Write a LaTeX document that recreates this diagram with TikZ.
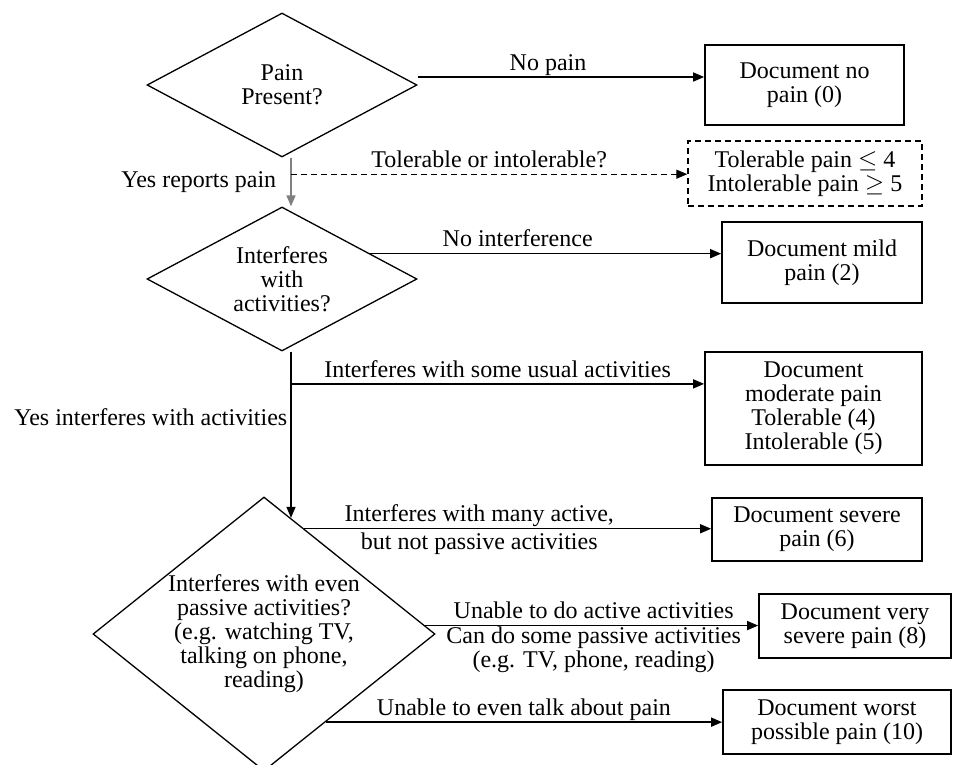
\documentclass[tikz,border=0pt]{standalone}
\usepackage{fontspec}
\setmainfont{Liberation Serif}
\usetikzlibrary{arrows.meta, shapes.geometric, calc}
\definecolor{grayline}{RGB}{128,128,128}

\begin{document}
\begin{tikzpicture}[x=1pt, y=-1pt, >={Triangle[length=11pt,width=9pt]},
    font=\fontsize{24}{24}\selectfont,
    decision/.style={diamond, draw, line width=1.3pt, inner sep=0pt, align=center},
    docbox/.style={draw, line width=1.7pt, inner sep=0pt, align=center},
    flow/.style={->, line width=1.5pt},
    lbl/.style={inner sep=1pt, text depth=5pt, align=center}]
    \useasboundingbox (0,0) rectangle (953,765);
    \node[decision, aspect=1.875, minimum width=270pt, minimum height=144pt] (pain) at (282,85) {Pain\\Present?};
    \node[decision, aspect=1.875, minimum width=270pt, minimum height=144pt] (interf) at (282,279) {Interferes\\with\\activities?};
    \node[decision, aspect=1.248, minimum width=342pt, minimum height=274pt] (passive) at (264,634) {Interferes with even\\passive activities?\\(e.g. watching TV,\\talking on phone,\\reading)};
    \node[docbox, minimum width=199pt, minimum height=80pt] (nopain) at (804.5,85) {Document no\\pain (0)};
    \node[docbox, dash pattern=on 6pt off 4pt, line width=1.4pt, minimum width=234pt, minimum height=65pt] (tol) at (805,173.5) {Tolerable pain $\leq$ 4\\Intolerable pain $\geq$ 5};
    \node[docbox, minimum width=200pt, minimum height=81pt] (mild) at (822,262.5) {Document mild\\pain (2)};
    \node[docbox, minimum width=217pt, minimum height=113pt] (moderate) at (813.5,408.5) {Document\\moderate pain\\Tolerable (4)\\Intolerable (5)};
    \node[docbox, minimum width=210pt, minimum height=63pt] (severe) at (817,529.5) {Document severe\\pain (6)};
    \node[docbox, minimum width=192pt, minimum height=64pt] (vsevere) at (855,626) {Document very\\severe pain (8)};
    \node[docbox, minimum width=228pt, minimum height=64pt] (worst) at (837,722) {Document worst\\possible pain (10)};
    \draw[flow] ([yshift=8pt]pain.east) -- node[lbl, above, pos=0.455]{No pain} ([yshift=8pt]pain.east -| nopain.west);
    \draw[flow, grayline] ([xshift=9pt]pain.south) -- coordinate[pos=0.34] (fork) node[lbl, left=13pt, midway]{\color{black}Yes reports pain} ([xshift=9pt]interf.north);
    \draw[flow, dash pattern=on 6pt off 4pt, line width=1.3pt] (fork) -- node[lbl, above]{Tolerable or intolerable?} (fork -| tol.west);
    \draw[flow] (interf.16) -- node[lbl, above, pos=0.42]{No interference} (interf.16 -| mild.west);
    \coordinate (spine) at ([xshift=9pt]interf.south);
    \draw[flow] (spine) -- coordinate[pos=0.194] (branch) node[lbl, left=2pt, pos=0.41]{Yes interferes with activities} (spine |- passive.77);
    \draw[flow] (branch) -- node[lbl, above]{Interferes with some usual activities} (branch -| moderate.west);
    \draw[flow] (passive.69) -- node[lbl, above, pos=0.43]{Interferes with many active,} node[lbl, below=2pt, pos=0.43]{but not passive activities} (passive.69 -| severe.west);
    \draw[flow] (passive.3) -- node[lbl, above, pos=0.506]{Unable to do active activities} node[lbl, below, pos=0.506]{Can do some passive activities\\(e.g. TV, phone, reading)} (passive.3 -| vsevere.west);
    \draw[flow] (passive.-55) -- node[lbl, above]{Unable to even talk about pain} (passive.-55 -| worst.west);
\end{tikzpicture}
\end{document}
